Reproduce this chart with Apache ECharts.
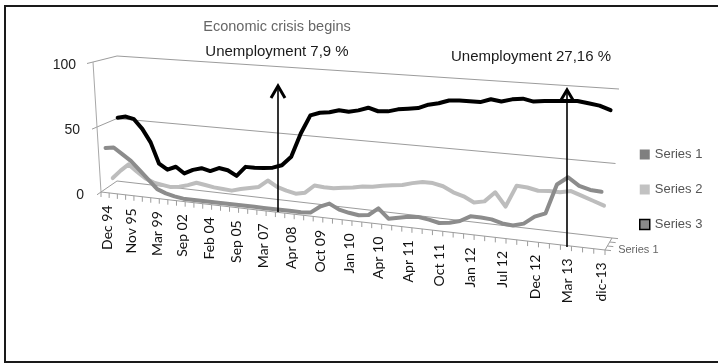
<!DOCTYPE html>
<html><head><meta charset="utf-8">
<script src="https://cdn.jsdelivr.net/npm/echarts@6/dist/echarts.min.js"></script>
<style>html,body{margin:0;padding:0;background:#fff}#c{width:718px;height:364px}</style>
</head><body><div id="c"></div>
<script>
// Tick labels shown on every 3rd category (Dec 94 ... dic-13)
const tickLabels = ['Dec 94','Nov 95','Mar 99','Sep 02','Feb 04','Sep 05','Mar 07','Apr 08','Oct 09','Jan 10','Apr 10','Apr 11','Oct 11','Jan 12','Jul 12','Dec 12','Mar 13','dic-13'];
const yTicks = [0, 50, 100];
const seriesNames = ['Series 1','Series 2','Series 3'];
// Series 1 (front, dark gray)
const series1 = [33,34,29.5,25,18.5,12,5.5,3,1.5,0.5, 0.5,0.5,0.5,0.5,0.5,0.5,0.5,0.5,0.5,0.5, 0.5,0.5,0.5,1,6,9,5.5,4,3,4, 9.5,3,4.5,6,6.5,5.5,4,5,7,11, 11,10.5,8.5,8,10,15.5,18.5,38.5,44,39, 37,36.5];
// Series 2 (middle, light gray)
const series2 = [7,13.5,19,14,9.5,7,6,5,6,8, 10.5,9.5,8.5,8,7.5,9.5,11,12.5,18,14, 12,10.5,12,18,17.5,17.5,18.5,19.5,21,21.5, 23,24,25,27,28.5,28.5,27,23.5,21.5,18, 19.5,26.5,17.5,32.5,32,30.5,31,31,32.5,30, 27.5,25];
// Series 3 (back, black)
const series3 = [52,53.5,52,45,35,19,15,18,13.5,17, 19,17.5,20.5,19.5,16,23.5,23.5,24,25,27.5, 34.5,52.5,66.5,69,70,72,71.5,73,75.5,73.5, 74,76,77,78,81,82.5,85,85.5,85.5,85.5, 88,87,89,90,88.5,89.5,90,90.5,91,90, 89,86.5];

const categories = series1.map((_, i) => (i % 3 === 0 ? tickLabels[i / 3] : ''));
const N = categories.length;

const FONT = 'Liberation Sans';
const A = 0.837; // perspective warp along the category direction

// 3D-like projection of a point of the (hidden) cartesian grid
function proj(cs, p, d) {
  const u = (p[0] - cs.x) / cs.width;
  const w = (cs.y + cs.height - p[1]) / cs.height;
  const s = A * u + (1 - A) * u * u;
  const xb = cs.x + s * (cs.width + 7 * w);
  const yb = p[1] + s * (57 - 24 * w);
  const dx = (-16 - 8 * w) + s * (9 + 3 * w);
  const dy = (11 - 5 * w) + s * (1 + w);
  return [xb + d * dx, yb + d * dy];
}
function gp(cs, api, u, v) { // grid pixel for fractional category position u (0..1) and value v
  const y = api.coord([0, v])[1];
  return [cs.x + u * cs.width, y];
}

const GRID = '#9c9c9c';

function frameRender(params, api) {
  const cs = params.coordSys;
  const ch = [];
  const line = (a, b, c, w) => ch.push({type:'line', shape:{x1:a[0], y1:a[1], x2:b[0], y2:b[1]}, style:{stroke:c || GRID, lineWidth:w || 1}});
  // back wall + side wall gridlines
  yTicks.forEach(v => {
    line(proj(cs, gp(cs, api, 0, v), 0), proj(cs, gp(cs, api, 1, v), 0));
    line(proj(cs, gp(cs, api, 0, v), 0), proj(cs, gp(cs, api, 0, v), 1.25));
    const f = proj(cs, gp(cs, api, 0, v), 1);
    ch.push({type:'text', x:f[0] - 17, y:f[1] + 3, style:{text:String(v), align:'right', verticalAlign:'middle', fill:'#222', font:'14px "' + FONT + '"'}});
  });
  // vertical axis at the front-left
  line(proj(cs, gp(cs, api, 0, 0), 1), proj(cs, gp(cs, api, 0, 100), 1), '#a8a8a8');
  // floor front edge
  line(proj(cs, gp(cs, api, 0, 0), 1), proj(cs, gp(cs, api, 1, 0), 1));
  // right floor edge (depth axis)
  line(proj(cs, gp(cs, api, 1, 0), 0), proj(cs, gp(cs, api, 1, 0), 1));
  [0, 1/3, 2/3, 1].forEach(d => {
    const p = proj(cs, gp(cs, api, 1, 0), d);
    line(p, [p[0] + 6, p[1] + 0.6]);
  });
  const dl = proj(cs, gp(cs, api, 1, 0), 5/6);
  ch.push({type:'text', x:dl[0] + 12, y:dl[1] + 2, style:{text:seriesNames[0], align:'left', verticalAlign:'middle', fill:'#666', font:'11px "' + FONT + '"'}});
  // category ticks
  for (let k = 0; k <= N; k++) {
    const p = proj(cs, gp(cs, api, k / N, 0), 1);
    line(p, [p[0], p[1] + 5]);
  }
  // category labels
  categories.forEach((c, i) => {
    if (!c) return;
    const p = proj(cs, gp(cs, api, (i + 0.5) / N, 0), 1);
    ch.push({type:'text', x:p[0] + 2, y:p[1] + 13, rotation:Math.PI / 2,
      style:{text:c, align:'right', verticalAlign:'middle', fill:'#111', font:'14px Lato'}});
  });
  return {type:'group', children:ch};
}

function lineSeries(name, vals, d, color, stroke, width, z) {
  return {
    type:'custom', name, coordinateSystem:'cartesian2d', z, clip:false, silent:true,
    itemStyle:{color},
    data:[[0, 0]],
    renderItem(params, api) {
      const cs = params.coordSys;
      const pts = vals.map((v, i) => proj(cs, api.coord([i, v]), d));
      return {type:'polyline', shape:{points:pts}, style:{stroke, lineWidth:width, fill:null, lineJoin:'round', lineCap:'round'}};
    }
  };
}

function arrow(x, yTop, yBot, hw, hh) {
  return [
    {type:'line', shape:{x1:x, y1:yTop + 2, x2:x, y2:yBot}, style:{stroke:'#000', lineWidth:1.6}, z:100},
    {type:'polyline', shape:{points:[[x - hw, yTop + hh], [x, yTop], [x + hw, yTop + hh]]}, style:{stroke:'#000', lineWidth:3, fill:null, lineJoin:'miter'}, z:100}
  ];
}

const chart = echarts.init(document.getElementById('c'), null, {renderer:'canvas'});
chart.setOption({
  animation:false,
  backgroundColor:'#fff',
  grid:{left:117, top:56, width:495, height:125},
  xAxis:{type:'category', data:categories, boundaryGap:true, show:false},
  yAxis:{type:'value', min:0, max:100, interval:50, show:false},
  legend:{
    orient:'vertical', left:634, top:143, itemWidth:10, itemHeight:10, itemGap:22, icon:'rect',
    textStyle:{color:'#555', fontSize:13, fontFamily:FONT},
    data:[{name:seriesNames[0]}, {name:seriesNames[1]}, {name:seriesNames[2], itemStyle:{borderColor:'#000', borderWidth:1.5}}]
  },
  graphic:[
    {type:'rect', shape:{x:5, y:6, width:720, height:356}, style:{stroke:'#1a1a1a', lineWidth:2, fill:null}, z:0},
    {type:'text', x:277, y:27, style:{text:'Economic crisis begins', align:'center', verticalAlign:'middle', fill:'#666', font:'14.5px "' + FONT + '"'}},
    {type:'text', x:277, y:52, style:{text:'Unemployment 7,9 %', align:'center', verticalAlign:'middle', fill:'#1a1a1a', font:'15px "' + FONT + '"'}},
    {type:'text', x:531, y:57, style:{text:'Unemployment 27,16 %', align:'center', verticalAlign:'middle', fill:'#1a1a1a', font:'15px "' + FONT + '"'}},
    ...arrow(278, 86, 212, 7, 12),
    ...arrow(567, 90, 247, 6, 10)
  ],
  series:[
    {type:'custom', name:'frame', coordinateSystem:'cartesian2d', z:1, clip:false, silent:true, data:[[0, 0]], renderItem:frameRender},
    lineSeries(seriesNames[2], series3, 1/6, '#8a8a8a', '#000', 4, 2),
    lineSeries(seriesNames[1], series2, 1/2, '#c2c2c2', '#bdbdbd', 4, 3),
    lineSeries(seriesNames[0], series1, 5/6, '#7f7f7f', '#8c8c8c', 4, 4)
  ]
});
</script>
</body></html>
